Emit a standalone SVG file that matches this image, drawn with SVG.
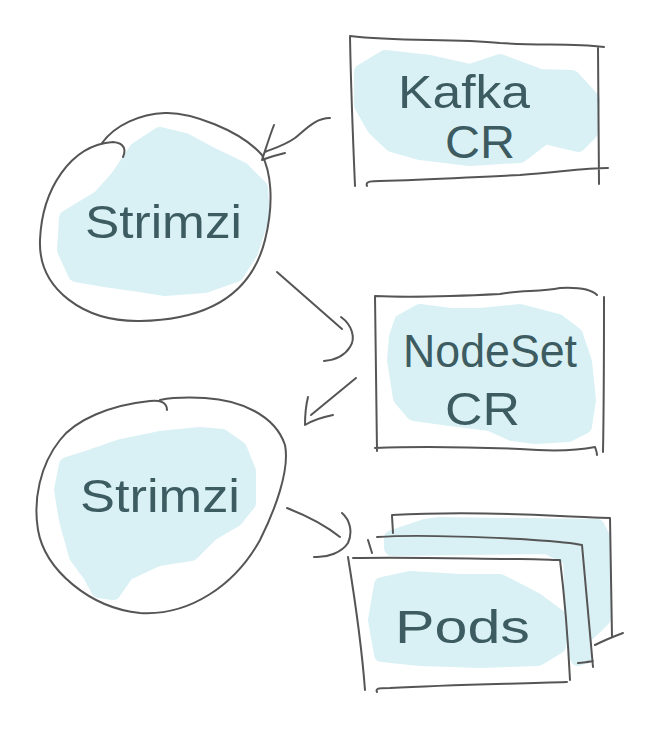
<svg xmlns="http://www.w3.org/2000/svg" width="651" height="730" viewBox="0 0 651 730">
<style>
.ink{fill:none;stroke:#555;stroke-width:2;stroke-linecap:round;stroke-linejoin:round}
.blob{fill:#d9f1f5;stroke:#d9f1f5;stroke-width:16;stroke-linejoin:round}
.lbl{font-family:"Liberation Sans",Arial,sans-serif;fill:#3d5c61;font-size:46px}
</style>
<rect width="651" height="730" fill="#fff"/>
<g id="kafka-cr">
<path class="blob" d="M362,72 L385,58 L430,63 L470,72 L500,62 L540,77 L572,78 L592,100 L590,132 L578,144 L545,136 L520,155 L470,158 L420,152 L392,144 L375,128 L362,105 Z"/>
<path class="ink" d="M350,36 C400,42 450,38 500,43 C540,46 570,43 604,47 M598,48 L599,184 M350,37 C351,90 353,140 355,186 M367,186 C365,181 372,181 380,181 C430,180 470,177 520,175 C560,172 585,168 608,168"/>
<text class="lbl" x="398" y="108" textLength="132" lengthAdjust="spacingAndGlyphs">Kafka</text>
<text class="lbl" x="445" y="158" textLength="70" lengthAdjust="spacingAndGlyphs">CR</text>
</g>
<g id="strimzi-1">
<path class="blob" d="M100,198 L118,178 L137,150 L160,135 L185,141 L213,156 L242,170 L260,188 L262,215 L250,252 L236,274 L205,285 L165,288 L140,284 L105,279 L76,274 L65,250 L67,218 Z"/>
<path class="ink" d="M123,157 C126,150 125,143 113,142 C70,145 42,190 40,240 C38,290 85,322 140,321 C200,320 250,300 265,240 C275,200 270,170 262,155 C240,130 190,112 165,113 C140,114 115,125 102,143"/>
<text class="lbl" x="85" y="238" font-size="54" textLength="157" lengthAdjust="spacingAndGlyphs">Strimzi</text>
</g>
<g id="nodeset-cr">
<path class="blob" d="M402,322 L420,312 L450,316 L480,316 L520,312 L558,322 L575,335 L584,362 L588,400 L584,426 L568,434 L535,436 L512,433 L490,423 L450,418 L414,413 L401,398 L395,360 L397,337 Z"/>
<path class="ink" d="M375,296 C420,298 460,296 500,294 C520,290 540,292 560,288 C580,287 592,290 597,295 M604,297 C604,350 604,400 603,452 M375,296 L377,451 M375,448 C420,446 470,447 520,449 C560,452 580,450 595,447 C596,450 597,452 597,455"/>
<text class="lbl" x="403" y="367" textLength="174" lengthAdjust="spacingAndGlyphs">NodeSet</text>
<text class="lbl" x="445" y="425" textLength="75" lengthAdjust="spacingAndGlyphs">CR</text>
</g>
<g id="strimzi-2">
<path class="blob" d="M67,465 L92,457 L121,447 L160,439 L200,435 L222,437 L239,449 L248,471 L248,503 L235,519 L211,533 L191,553 L158,558 L126,573 L113,592 L99,590 L91,575 L77,556 L67,520 L62,490 Z"/>
<path class="ink" d="M167,410 C167,402 160,400 150,401 C110,405 75,420 60,440 C40,465 33,500 38,530 C45,570 90,608 140,613 C190,616 235,585 260,540 C275,510 290,470 285,445 C275,415 240,400 205,398 C185,397 170,398 160,400"/>
<text class="lbl" x="80" y="512" font-size="54" textLength="160" lengthAdjust="spacingAndGlyphs">Strimzi</text>
</g>
<g id="pods">
<path class="blob" d="M392,538 L425,527 L440,525 L597,527 L602,537 L603,618 L595,626 L584,636 L584,656 L578,658 L574,640 L571,558 L547,546 L392,548 Z"/>
<path class="blob" d="M382,585 L410,579 L460,582 L500,582 L535,600 L558,617 L558,646 L538,658 L480,660 L420,658 L382,654 L376,620 Z"/>
<path class="ink" d="M392,516 L393,533 M392,515 C450,512 520,514 560,516 C585,517 600,518 610,518 L612,637 M595,645 C605,640 615,636 623,633"/>
<path class="ink" d="M368,540 L372,553 M377,537 C420,534 480,537 520,539 C550,541 570,542 582,545 L593,667 M578,663 C585,662 590,662 593,661"/>
<path class="ink" d="M353,558 C420,557 480,559 520,559 C540,559 553,560 560,560 C565,600 568,640 570,680 M348,557 C355,600 362,650 365,690 M377,692 C375,688 380,688 390,688 C450,685 510,684 567,682"/>
<text class="lbl" x="395" y="643" textLength="135" lengthAdjust="spacingAndGlyphs">Pods</text>
</g>
<g id="connectors">
<path class="ink" d="M330,118 C315,118 305,130 295,138 C285,145 275,148 265,152 M274,125 C270,135 266,148 262,160 C270,157 278,155 285,153"/>
<path class="ink" d="M277,272 L342,329 M341,317 C352,325 356,338 350,347 C345,355 335,360 324,361"/>
<path class="ink" d="M356,378 L311,415 M308,397 C306,405 305,415 305,425 C313,420 323,417 333,415"/>
<path class="ink" d="M287,508 C305,515 325,525 340,537 M342,513 C350,520 353,532 348,543 C342,552 328,558 314,557"/>
</g>
</svg>
